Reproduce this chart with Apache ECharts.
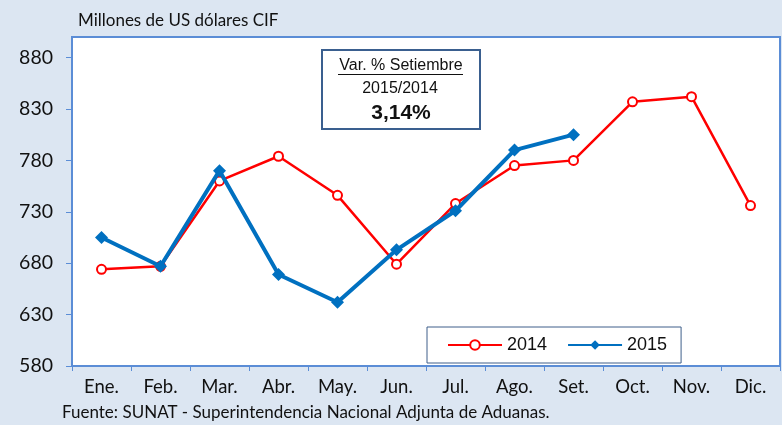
<!DOCTYPE html>
<html><head><meta charset="utf-8">
<script src="https://cdn.jsdelivr.net/npm/echarts@6/dist/echarts.min.js"></script>
<style>html,body{margin:0;padding:0;background:#dce6f2}#c{width:782px;height:425px}</style>
</head><body><div id="c"></div>
<script>
const categories = ['Ene.','Feb.','Mar.','Abr.','May.','Jun.','Jul.','Ago.','Set.','Oct.','Nov.','Dic.'];
const values2014 = [674, 677, 760, 784, 746, 679, 738, 775, 780, 837, 842, 736];
const values2015 = [705, 677, 770, 669, 642, 693, 731, 790, 805];
const yTicks = [580, 630, 680, 730, 780, 830, 880];
const unitLabel = 'Millones de US dólares CIF';
const sourceNote = 'Fuente: SUNAT - Superintendencia Nacional Adjunta de Aduanas.';
const boxLines = ['Var. % Setiembre', '2015/2014', '3,14%'];

const FONT = 'Lato';
const chart = echarts.init(document.getElementById('c'), null, {renderer:'canvas'});
chart.setOption({
  backgroundColor: '#dce6f2',
  animation: false,
  grid: {left: 72, right: 2, top: 37, bottom: 59, show: true, backgroundColor: '#ffffff', borderColor: '#5b8dd6', borderWidth: 2},
  xAxis: {
    type: 'category', data: categories, boundaryGap: true,
    axisLine: {lineStyle: {color: '#5b8dd6', width: 2}},
    axisTick: {show: true, length: 5, lineStyle: {color: '#5b8dd6', width: 1}},
    axisLabel: {color: '#111', fontFamily: FONT, fontSize: 18.5, margin: 12}
  },
  yAxis: {
    type: 'value', min: 580, max: 900,
    splitLine: {show: false},
    axisLine: {show: true, lineStyle: {color: '#5b8dd6', width: 2}},
    axisTick: {show: true, length: 6, customValues: yTicks, lineStyle: {color: '#5b8dd6', width: 1}},
    axisLabel: {customValues: yTicks, color: '#111', fontFamily: FONT, fontSize: 19.5, margin: 19}
  },
  legend: {
    left: 427, top: 327, orient: 'horizontal',
    backgroundColor: '#fff', borderColor: '#3f5f8a', borderWidth: 1,
    padding: [9, 14, 9, 20], itemWidth: 54, itemHeight: 12, itemGap: 20,
    textStyle: {fontFamily: 'Liberation Sans', fontSize: 18, color: '#111'},
    data: [{name: '2014'}, {name: '2015'}]
  },
  series: [
    {name: '2014', type: 'line', data: values2014, symbol: 'circle', symbolSize: 9,
     lineStyle: {color: '#ff0000', width: 2.5}, itemStyle: {color: '#ffffff', borderColor: '#ff0000', borderWidth: 2}, z: 2},
    {name: '2015', type: 'line', data: values2015, symbol: 'diamond', symbolSize: 13,
     lineStyle: {color: '#0070c0', width: 4}, itemStyle: {color: '#0070c0', borderColor: '#0070c0', borderWidth: 0}, z: 3}
  ],
  graphic: [
    {type: 'text', left: 78, top: 12, style: {text: unitLabel, fontFamily: FONT, fontSize: 17, fill: '#111'}},
    {type: 'text', left: 62, top: 404, style: {text: sourceNote, fontFamily: FONT, fontSize: 17, fill: '#111'}},
    {type: 'rect', shape: {x: 322, y: 50, width: 158, height: 79}, style: {fill: '#fff', stroke: '#3a5f8f', lineWidth: 2}, z: 10},
    {type: 'text', x: 401, y: 66, style: {text: boxLines[0], fontFamily: 'Liberation Sans', fontSize: 16, fill: '#111', align: 'center', verticalAlign: 'middle'}, z: 11},
    {type: 'line', shape: {x1: 338, y1: 74.5, x2: 463, y2: 74.5}, style: {stroke: '#111', lineWidth: 1}, z: 11},
    {type: 'text', x: 400, y: 89, style: {text: boxLines[1], fontFamily: 'Liberation Sans', fontSize: 16, fill: '#111', align: 'center', verticalAlign: 'middle'}, z: 11},
    {type: 'text', x: 401, y: 113, style: {text: boxLines[2], fontFamily: 'Liberation Sans', fontSize: 21, fontWeight: 'bold', fill: '#111', align: 'center', verticalAlign: 'middle'}, z: 11}
  ]
});
</script></body></html>
